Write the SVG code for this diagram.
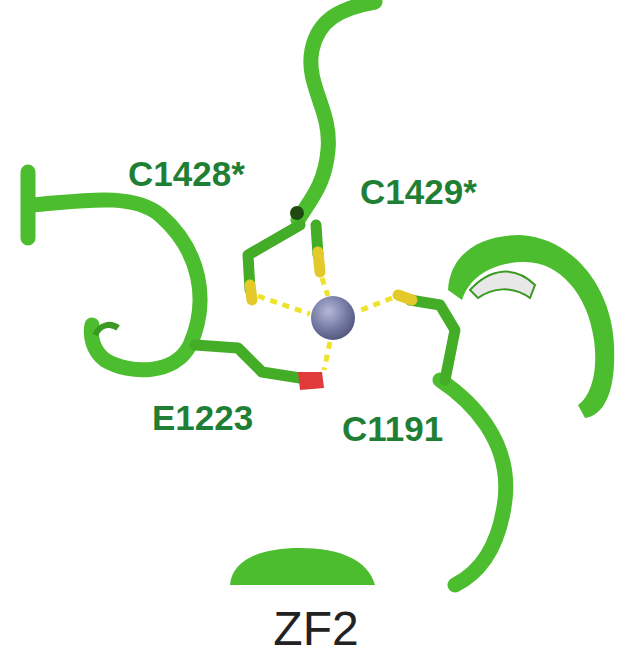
<svg xmlns="http://www.w3.org/2000/svg" width="633" height="669" viewBox="0 0 633 669">
<defs>
<radialGradient id="zn" cx="0.4" cy="0.35" r="0.7"><stop offset="0" stop-color="#b4b8d8"/><stop offset="0.6" stop-color="#7479a3"/><stop offset="1" stop-color="#4e5378"/></radialGradient>
</defs>
<style>
.t{fill:none;stroke:#4cbd2e;stroke-width:15;stroke-linecap:round;stroke-linejoin:round}
.s{fill:none;stroke:#44ad28;stroke-width:11;stroke-linecap:round;stroke-linejoin:round}
.y{fill:none;stroke:#e3c92a;stroke-width:11;stroke-linecap:round}
.d{fill:none;stroke:#eee22a;stroke-width:5;stroke-dasharray:7 6}
.l{font-family:"Liberation Sans",Arial,sans-serif;font-weight:bold;font-size:35px;fill:#1f7f35}
</style>
<rect width="633" height="669" fill="#fff"/>
<g id="backbone">
<path class="t" d="M375,2 C340,8 318,20 312,50 C305,85 332,110 328,150 C325,185 310,200 298,220"/>
<path class="t" d="M28,172 L28,238 M30,205 C70,203 130,190 160,215 C200,250 210,300 190,345 C175,375 130,375 105,360 C92,350 90,335 92,325"/>
<path d="M448,290 C450,255 478,235 520,235 C575,238 612,290 614,345 C616,390 605,415 585,418 L578,405 C592,395 598,370 594,340 C588,295 560,262 525,262 C495,262 470,275 462,300Z" fill="#4cbd2e"/>
<path d="M470,290 C490,268 515,265 535,285 L530,298 C512,285 492,288 478,298Z" fill="#e8e8e8" stroke="#3a9a22" stroke-width="2"/>
<path class="t" d="M440,380 C470,400 512,440 505,500 C500,540 485,570 455,585"/>
<path d="M230,585 C232,560 260,548 300,548 C340,548 368,560 375,585Z" fill="#4cbd2e"/>
<path d="M95,335 C100,325 110,322 118,328" fill="none" stroke="#3a9a22" stroke-width="6"/>
</g>
<g id="sticks">
<path class="s" d="M300,225 L248,255 L250,290"/>
<path class="y" d="M250,285 L252,300"/>
<path class="s" d="M316,225 L318,255"/>
<path class="y" d="M318,252 L320,272"/>
<circle cx="297" cy="213" r="7" fill="#1f4a12"/>
<path class="s" d="M445,380 L455,330 L440,305 L410,300"/>
<path class="y" d="M412,300 L398,295"/>
<path class="s" d="M195,345 L238,348 L262,372 L300,378"/>
<path d="M298,372 L322,372 L324,388 L300,390Z" fill="#e03a3a"/>
</g>
<g id="bonds">
<path class="d" d="M258,296 L310,314"/>
<path class="d" d="M322,278 L328,296"/>
<path class="d" d="M392,298 L356,312"/>
<path class="d" d="M330,342 L324,370"/>
</g>
<g id="zinc"><circle cx="333" cy="318" r="22" fill="url(#zn)"/></g>
<g id="labels">
<text class="l" x="128" y="186">C1428*</text>
<text class="l" x="360" y="204">C1429*</text>
<text class="l" x="152" y="430">E1223</text>
<text class="l" x="342" y="441">C1191</text>
<text x="316" y="645" text-anchor="middle" font-family="Liberation Sans,Arial,sans-serif" font-size="48" fill="#222">ZF2</text>
</g>
</svg>
